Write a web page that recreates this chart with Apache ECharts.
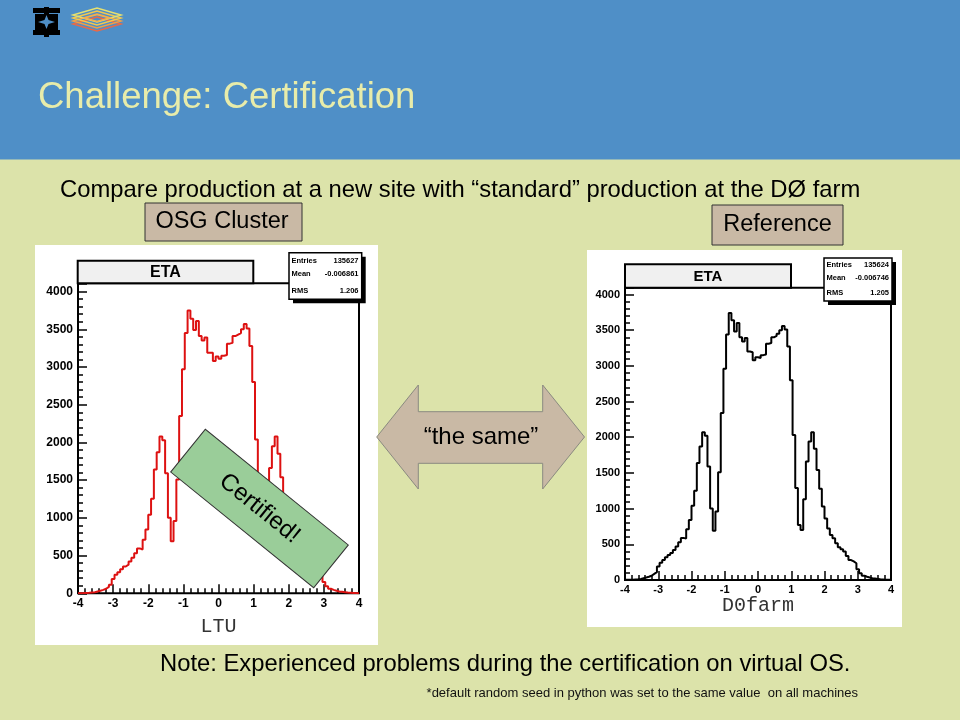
<!DOCTYPE html>
<html>
<head>
<meta charset="utf-8">
<script src="https://cdn.jsdelivr.net/npm/echarts@6.0.0/dist/echarts.min.js"></script>
<style>
html,body{margin:0;padding:0;background:#DCE3AA;}
#chart{width:960px;height:720px;}
</style>
</head>
<body>
<div id="chart"></div>
<script>
// ---- data (ETA histograms, 100 bins from -4 to 4) ----
const binLow = -4;
const binWidth = 0.08;
const d0farmCounts = [
  2, 3, 5, 8, 10, 15, 25, 35, 45, 60,
  85, 110, 190, 240, 280, 320, 350, 380, 420, 470,
  530, 590, 580, 710, 840, 1040, 1250, 1640, 1870, 2070,
  2020, 1590, 1000, 690, 960, 1510, 2340, 2960, 3440, 3740,
  3640, 3480, 3600, 3400, 3340, 3390, 3200, 3190, 3080, 3120,
  3110, 3150, 3160, 3310, 3320, 3400, 3420, 3450, 3500, 3560,
  3510, 3270, 2800, 2030, 1290, 770, 700, 1130, 1660, 1940,
  2070, 1840, 1540, 1280, 1030, 860, 720, 630, 585, 515,
  460, 430, 400, 335, 280, 260, 235, 150, 95, 60,
  45, 35, 25, 20, 15, 10, 8, 5, 3, 2
];
const ltuCounts = [
  2, 3, 5, 8, 12, 15, 25, 35, 45, 60,
  85, 115, 190, 245, 280, 320, 355, 380, 420, 470,
  530, 595, 580, 710, 845, 1040, 1255, 1640, 1870, 2080,
  2030, 1590, 1000, 690, 960, 1510, 2350, 2970, 3450, 3750,
  3640, 3490, 3610, 3410, 3350, 3390, 3190, 3190, 3080, 3140,
  3110, 3150, 3160, 3310, 3320, 3410, 3430, 3450, 3500, 3570,
  3510, 3280, 2800, 2040, 1290, 770, 700, 1130, 1660, 1950,
  2080, 1850, 1540, 1280, 1030, 860, 720, 630, 585, 515,
  460, 430, 400, 335, 285, 260, 235, 150, 95, 60,
  45, 35, 25, 20, 15, 10, 8, 5, 3, 2
];
const statLabels = ['Entries', 'Mean', 'RMS'];
const ltuStats = ['135627', '-0.006861', '1.206'];
const d0farmStats = ['135624', '-0.006746', '1.205'];
const histTitle = 'ETA';

function histData(counts) {
  const d = counts.map((c, i) => [+(binLow + i * binWidth).toFixed(2), c]);
  d.push([+(binLow + counts.length * binWidth).toFixed(2), counts[counts.length - 1]]);
  return d;
}

const SANS = '"Liberation Sans", Arial, sans-serif';
const BLUE = '#4F8FC7';

function xAxisCfg(gridIndex, name, gap, fs) {
  return {
    gridIndex, type: 'value', min: -4, max: 4, interval: 1,
    axisLine: { show: false, onZero: false },
    axisTick: { show: true, inside: true, length: 9, lineStyle: { color: '#000', width: 1.5 } },
    minorTick: { show: true, splitNumber: 5, length: 5, lineStyle: { color: '#000', width: 1.5 } },
    splitLine: { show: false }, minorSplitLine: { show: false },
    axisLabel: { color: '#000', fontWeight: 'bold', fontSize: fs, fontFamily: SANS, margin: 4 },
    name, nameLocation: 'middle', nameGap: gap,
    nameTextStyle: { fontFamily: '"Liberation Mono", "Courier New", monospace', fontSize: 20, color: '#333' }
  };
}
function yAxisCfg(gridIndex, max, fs) {
  return {
    gridIndex, type: 'value', min: 0, max, interval: 500,
    axisLine: { show: false, onZero: false },
    axisTick: { show: true, inside: true, length: 9, lineStyle: { color: '#000', width: 1.5 } },
    minorTick: { show: true, splitNumber: 5, length: 5, lineStyle: { color: '#000', width: 1.5 } },
    splitLine: { show: false }, minorSplitLine: { show: false },
    axisLabel: {
      color: '#000', fontWeight: 'bold', fontSize: fs, fontFamily: SANS, margin: 5,
      formatter: v => (v % 500 === 0 ? String(v) : '')
    }
  };
}

function txt(x, y, text, font, fill, align, z) {
  return { type: 'text', z: z || 20, style: { x, y, text, font, fill: fill || '#000',
    textAlign: align || 'left', align: align || 'left', textVerticalAlign: 'middle', verticalAlign: 'middle' } };
}
function statBox(x, y, w, h, vals, ys, lx, vx) {
  const els = [
    { type: 'rect', z: 30, shape: { x: x + 4, y: y + 4, width: w, height: h }, style: { fill: '#000' } },
    { type: 'rect', z: 31, shape: { x, y, width: w, height: h }, style: { fill: '#fff', stroke: '#000', lineWidth: 1.5 } }
  ];
  statLabels.forEach((l, i) => {
    els.push(txt(lx, ys[i], l, 'bold 7.5px ' + SANS, '#000', 'left', 32));
    els.push(txt(vx, ys[i], vals[i], 'bold 7.5px ' + SANS, '#000', 'right', 32));
  });
  return els;
}
function diamond(cx, cy, w, h, color) {
  return { type: 'polygon', z: 5, shape: { points: [[cx - w / 2, cy], [cx, cy - h / 2], [cx + w / 2, cy], [cx, cy + h / 2]] },
    style: { fill: 'none', stroke: color, lineWidth: 1.5 } };
}

const graphics = [
  // header band
  { type: 'rect', z: -2, shape: { x: 0, y: 0, width: 960, height: 159.5 }, style: { fill: BLUE } },
  // logos
  { type: 'rect', z: 5, shape: { x: 33, y: 8, width: 11, height: 5 }, style: { fill: '#000' } },
  { type: 'rect', z: 5, shape: { x: 49, y: 8, width: 11, height: 5 }, style: { fill: '#000' } },
  { type: 'rect', z: 5, shape: { x: 44, y: 7, width: 5, height: 10 }, style: { fill: '#000' } },
  { type: 'rect', z: 5, shape: { x: 33, y: 30, width: 11, height: 5 }, style: { fill: '#000' } },
  { type: 'rect', z: 5, shape: { x: 49, y: 30, width: 11, height: 5 }, style: { fill: '#000' } },
  { type: 'rect', z: 5, shape: { x: 44, y: 27, width: 5, height: 10 }, style: { fill: '#000' } },
  { type: 'rect', z: 5, shape: { x: 35, y: 14, width: 23, height: 16 }, style: { fill: '#000' } },
  { type: 'polygon', z: 6, shape: { points: [[46.5, 15], [48.5, 20], [55, 22], [48.5, 24], [46.5, 29], [44.5, 24], [38, 22], [44.5, 20]] }, style: { fill: BLUE } },
  diamond(97, 24, 48, 14, '#E86A48'),
  diamond(97, 21, 48, 14, '#F0A048'),
  diamond(97, 18, 48, 14, '#F2C850'),
  diamond(97, 15, 48, 14, '#E6E070'),
  diamond(97, 18, 26, 7, '#F0B050'),
  // title
  txt(38, 98, 'Challenge: Certification', '36.5px ' + SANS, '#E8ECAA'),
  // subtitle
  txt(60, 190, 'Compare production at a new site with \u201cstandard\u201d production at the D\u00d8 farm', '23.8px ' + SANS, '#000'),
  // label boxes
  { type: 'rect', z: 5, shape: { x: 145, y: 203, width: 157, height: 38 }, style: { fill: '#C9B9A5', stroke: '#333', lineWidth: 1 } },
  txt(222, 221.5, 'OSG Cluster', '23.5px ' + SANS, '#000', 'center'),
  { type: 'rect', z: 5, shape: { x: 712, y: 205, width: 131, height: 40 }, style: { fill: '#C9B9A5', stroke: '#333', lineWidth: 1 } },
  txt(777.5, 224.5, 'Reference', '23.5px ' + SANS, '#000', 'center'),
  // white panels
  { type: 'rect', z: -1, shape: { x: 35, y: 245, width: 343, height: 400 }, style: { fill: '#fff' } },
  { type: 'rect', z: -1, shape: { x: 587, y: 250, width: 315, height: 377 }, style: { fill: '#fff' } },
  // ETA title boxes
  { type: 'rect', z: 30, shape: { x: 77.7, y: 260.7, width: 175.6, height: 22.6 }, style: { fill: '#F0F0F0', stroke: '#000', lineWidth: 2 } },
  txt(165.5, 273, histTitle, 'bold 16px ' + SANS, '#000', 'center', 31),
  { type: 'rect', z: 30, shape: { x: 625, y: 264.3, width: 166, height: 23.4 }, style: { fill: '#F0F0F0', stroke: '#000', lineWidth: 2 } },
  txt(708, 277, histTitle, 'bold 15px ' + SANS, '#000', 'center', 31),
  ...statBox(289, 252.7, 72.7, 46.6, ltuStats, [260.5, 273.5, 290.5], 291.5, 358.5),
  ...statBox(824, 258, 68, 43, d0farmStats, [265, 278, 292.5], 826.5, 889),
  // double arrow
  { type: 'polygon', z: 5, shape: { points: [
      [376.7, 437], [418.3, 385], [418.3, 411.7], [542.7, 411.7], [542.7, 385], [584.5, 437],
      [542.7, 489], [542.7, 463.3], [418.3, 463.3], [418.3, 489]] },
    style: { fill: '#C9B9A5', stroke: '#8A8A80', lineWidth: 1 } },
  txt(481, 437.5, '\u201cthe same\u201d', '24px ' + SANS, '#000', 'center'),
  // certified stamp
  { type: 'group', x: 259.5, y: 508.5, rotation: -39 * Math.PI / 180, z: 60, children: [
      { type: 'rect', z: 60, shape: { x: -92, y: -27.5, width: 184, height: 55 }, style: { fill: '#9ACD99', stroke: '#333', lineWidth: 1 } },
      { type: 'text', z: 61, style: { x: 0, y: 0, text: 'Certified!', font: '24px ' + SANS, fill: '#000',
        textAlign: 'center', align: 'center', textVerticalAlign: 'middle', verticalAlign: 'middle' } }
  ] },
  // notes
  txt(160, 664, 'Note: Experienced problems during the certification on virtual OS.', '23.8px ' + SANS, '#000'),
  txt(858, 693, '*default random seed in python was set to the same value  on all machines',
      '13px "Liberation Sans Narrow", "Arial Narrow", ' + SANS, '#111', 'right')
];

const chart = echarts.init(document.getElementById('chart'), null, { renderer: 'canvas' });
chart.setOption({
  animation: false,
  backgroundColor: '#DCE3AA',
  grid: [
    { left: 78, top: 283.3, width: 281, height: 310, show: true, borderColor: '#000', borderWidth: 2, backgroundColor: 'rgba(0,0,0,0)', containLabel: false },
    { left: 625, top: 287.7, width: 266, height: 292.3, show: true, borderColor: '#000', borderWidth: 2, backgroundColor: 'rgba(0,0,0,0)', containLabel: false }
  ],
  xAxis: [xAxisCfg(0, 'LTU', 23, 12), xAxisCfg(1, 'D0farm', 8, 11)],
  yAxis: [yAxisCfg(0, 4110, 12), yAxisCfg(1, 4095, 11)],
  series: [
    { type: 'line', xAxisIndex: 0, yAxisIndex: 0, data: histData(ltuCounts), step: 'end', symbol: 'none',
      lineStyle: { color: '#DD1111', width: 2 }, z: 3 },
    { type: 'line', xAxisIndex: 1, yAxisIndex: 1, data: histData(d0farmCounts), step: 'end', symbol: 'none',
      lineStyle: { color: '#000', width: 2 }, z: 3 }
  ],
  graphic: graphics
});
</script>
</body>
</html>
